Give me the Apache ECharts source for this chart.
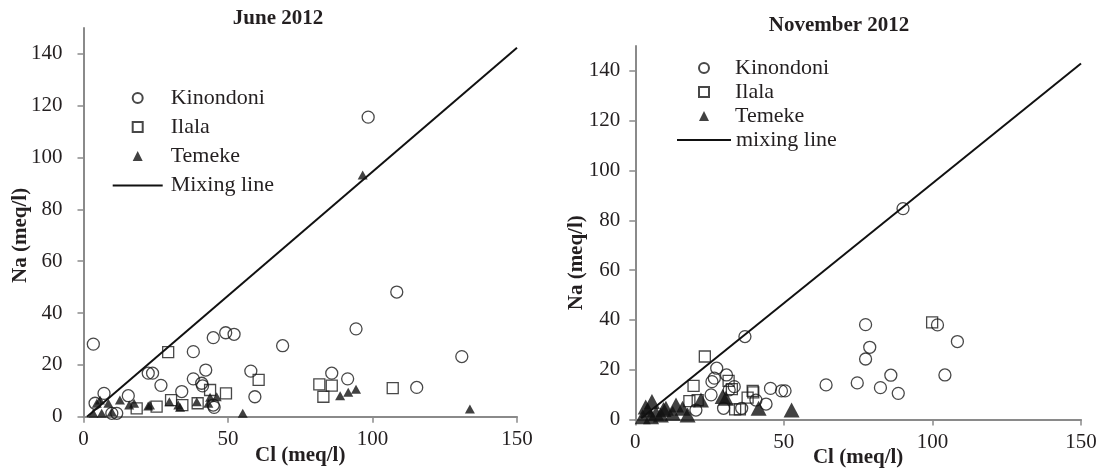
<!DOCTYPE html>
<html>
<head>
<meta charset="utf-8">
<script src="https://cdn.jsdelivr.net/npm/echarts@6/dist/echarts.min.js"></script>
<style>
  html, body { margin: 0; padding: 0; background: #fff; }
  #chart { width: 1099px; height: 468px; }
</style>
</head>
<body>
<div id="chart"></div>
<script>
// Na vs Cl groundwater samples, Dar es Salaam districts — [Cl, Na] in meq/l
const juneKinondoni = [
  [3.4, 28.0], [38.0, 25.1], [44.9, 30.5], [49.2, 32.4], [52.1, 31.8], [68.9, 27.4],
  [22.4, 16.8], [23.9, 16.8], [42.3, 18.0], [57.9, 17.6], [26.8, 12.1], [38.0, 14.6],
  [40.9, 12.9], [41.2, 11.9], [34.0, 9.7], [59.3, 7.7], [7.1, 9.0], [4.0, 5.2],
  [15.5, 8.1], [44.9, 4.5], [45.2, 3.6], [9.8, 1.3], [11.5, 1.3], [94.3, 33.9],
  [130.9, 23.2], [85.9, 16.8], [91.4, 14.6], [115.3, 11.3], [98.5, 115.6], [108.4, 48.1]
];
const juneIlala = [
  [29.3, 24.9], [60.6, 14.2], [43.8, 10.3], [49.3, 9.0], [25.3, 3.9], [18.4, 3.2],
  [30.3, 6.4], [34.2, 4.5], [39.5, 5.2], [81.6, 12.5], [85.9, 12.0], [83.0, 7.7],
  [107.0, 11.0]
];
const juneTemeke = [
  [3.4, 1.3], [4.6, 5.2], [6.3, 1.3], [8.6, 5.2], [9.8, 1.9], [12.6, 6.4], [15.8, 4.5],
  [17.5, 5.2], [22.4, 4.1], [23.0, 4.5], [29.7, 5.8], [32.8, 4.5], [33.4, 3.6],
  [39.2, 5.8], [43.2, 5.2], [43.8, 7.5], [46.1, 7.7], [55.1, 1.3], [88.8, 8.1],
  [91.6, 9.4], [94.3, 10.6], [133.7, 3.0], [96.6, 93.3], [5.7, 6.4]
];
const juneMixing = [[1.2, 0], [150, 142.4]];

const novKinondoni = [
  [90.1, 84.7], [36.9, 33.3], [77.5, 38.1], [78.9, 29.0], [77.5, 24.3], [86.0, 17.8],
  [74.7, 14.7], [64.2, 13.9], [82.5, 12.8], [88.5, 10.5], [45.5, 12.5], [49.2, 11.5],
  [50.4, 11.5], [44.0, 6.2], [40.6, 7.8], [35.8, 4.5], [101.7, 38.0], [108.4, 31.3],
  [104.2, 17.9], [27.4, 20.6], [30.7, 17.9], [26.6, 16.6], [25.8, 15.2], [33.3, 13.2],
  [31.6, 11.9], [25.5, 9.9], [29.7, 4.5], [20.4, 3.8]
];
const novIlala = [
  [99.9, 39.0], [23.4, 25.3], [19.6, 13.5], [31.4, 15.5], [32.5, 12.2], [39.5, 11.5],
  [37.8, 8.8], [18.2, 7.4], [21.0, 7.8], [33.6, 4.1], [35.2, 4.1], [39.7, 10.9]
];
const novTemeke = [
  [5.6, 7.2], [4.2, 3.8], [7.0, 2.5], [2.5, 1.1], [10.3, 4.5], [13.7, 5.8], [12.6, 2.5],
  [15.9, 4.5], [17.6, 1.8], [22.1, 7.8], [29.4, 9.2], [30.5, 8.5], [41.5, 4.5],
  [52.6, 3.8], [8.6, 1.8], [5.3, 1.1], [9.5, 4.0], [3.5, 5.0]
];
const novMixing = [[2.0, 0.5], [150, 143.0]];

const xTicks = [0, 50, 100, 150];
const yTicks = [0, 20, 40, 60, 80, 100, 120, 140];
const panelTitles = ['June 2012', 'November 2012'];
const xName = 'Cl (meq/l)';
const yName = 'Na (meq/l)';

const FONT = '"Liberation Serif", "Times New Roman", serif';
const INK = '#231f20';
const AXIS = '#8a8a8a';

function xAxisFor(gridIndex) {
  return {
    type: 'value', gridIndex, min: 0, max: 150, interval: 50,
    name: xName, nameLocation: 'middle', nameGap: 28, nameMoveOverlap: false,
    nameTextStyle: { fontFamily: FONT, fontSize: 21, fontWeight: 'bold', color: INK },
    axisLine: { lineStyle: { color: AXIS, width: 2 } },
    axisTick: { show: true, length: 6, lineStyle: { color: AXIS, width: 1.5 }, customValues: xTicks },
    axisLabel: { fontFamily: FONT, fontSize: 21, color: INK, margin: 12, customValues: xTicks },
    splitLine: { show: false }
  };
}
function yAxisFor(gridIndex) {
  return {
    type: 'value', gridIndex, min: 0, max: 150, interval: 20,
    name: yName, nameLocation: 'middle', nameGap: gridIndex === 0 ? 52 : 48, nameMoveOverlap: false,
    nameTextStyle: { fontFamily: FONT, fontSize: 21, fontWeight: 'bold', color: INK,
      padding: gridIndex === 0 ? [0, 26, 0, 0] : [0, 60, 0, 0] },
    axisLine: { show: true, lineStyle: { color: AXIS, width: 2 } },
    axisTick: { show: true, length: 6, lineStyle: { color: AXIS, width: 1.5 }, customValues: yTicks },
    axisLabel: { fontFamily: FONT, fontSize: 21, color: INK, margin: gridIndex === 0 ? 21 : 15, customValues: yTicks },
    splitLine: { show: false }
  };
}

const hollow = { color: 'rgba(0,0,0,0)', borderColor: '#1a1a1a', borderWidth: 1.3 };
const solid = { color: '#111', borderWidth: 0 };

function panelSeries(idx, kin, ila, tem, mix, lineName, triSize) {
  return [
    { name: 'Kinondoni', type: 'scatter', xAxisIndex: idx, yAxisIndex: idx, data: kin,
      symbol: 'circle', symbolSize: 12, itemStyle: hollow, z: 2 },
    { name: 'Ilala', type: 'scatter', xAxisIndex: idx, yAxisIndex: idx, data: ila,
      symbol: 'rect', symbolSize: 11, itemStyle: hollow, z: 3 },
    { name: 'Temeke', type: 'scatter', xAxisIndex: idx, yAxisIndex: idx, data: tem,
      symbol: 'triangle', symbolSize: triSize, itemStyle: solid, z: 4 },
    { name: lineName, type: 'line', xAxisIndex: idx, yAxisIndex: idx, data: mix,
      symbol: 'none', itemStyle: { color: 'rgba(0,0,0,0)' },
      lineStyle: { color: '#111', width: 2 }, z: 5, silent: true }
  ];
}

const legendText = (pad) => ({
  fontFamily: FONT, fontSize: 22, color: INK, lineHeight: 22, padding: [0, 0, 0, pad]
});

// marker legend: small square icon boxes so symbols keep their shape
function markerLegend(left, top, gap, pad) {
  return {
    orient: 'vertical', left, top, padding: 0, itemGap: gap, itemWidth: 10, itemHeight: 10,
    symbolKeepAspect: true, selectedMode: false,
    data: [
      { name: 'Kinondoni', icon: 'circle' },
      { name: 'Ilala', icon: 'rect' },
      { name: 'Temeke', icon: 'triangle' }
    ],
    textStyle: legendText(pad)
  };
}
function lineLegend(name, left, top, width, pad) {
  return {
    orient: 'vertical', left, top, padding: 0, itemWidth: width, itemHeight: 10, selectedMode: false,
    data: [{ name, itemStyle: { opacity: 0 } }],
    textStyle: legendText(pad)
  };
}

const chart = echarts.init(document.getElementById('chart'), null, { renderer: 'canvas' });
chart.setOption({
  backgroundColor: '#fff',
  animation: false,
  title: [
    { text: panelTitles[0], left: 273, top: 3, textAlign: 'center',
      textStyle: { fontFamily: FONT, fontSize: 21, fontWeight: 'bold', color: INK } },
    { text: panelTitles[1], left: 834, top: 10, textAlign: 'center',
      textStyle: { fontFamily: FONT, fontSize: 21, fontWeight: 'bold', color: INK } }
  ],
  grid: [
    { left: 83.5, top: 28, width: 433.5, height: 388.7, outerBoundsMode: 'none' },
    { left: 635.3, top: 46, width: 445.7, height: 373.5, outerBoundsMode: 'none' }
  ],
  legend: [
    markerLegend(131.7, 87, 7, 23),
    lineLegend('Mixing line', 111.7, 174.5, 50, 3),
    markerLegend(698, 57, 2, 21),
    lineLegend('mixing line', 676, 129, 54, 0)
  ],
  xAxis: [xAxisFor(0), xAxisFor(1)],
  yAxis: [yAxisFor(0), yAxisFor(1)],
  series: [
    ...panelSeries(0, juneKinondoni, juneIlala, juneTemeke, juneMixing, 'Mixing line', [10, 9]),
    ...panelSeries(1, novKinondoni, novIlala, novTemeke, novMixing, 'mixing line', [16, 15])
  ]
});
</script>
</body>
</html>
